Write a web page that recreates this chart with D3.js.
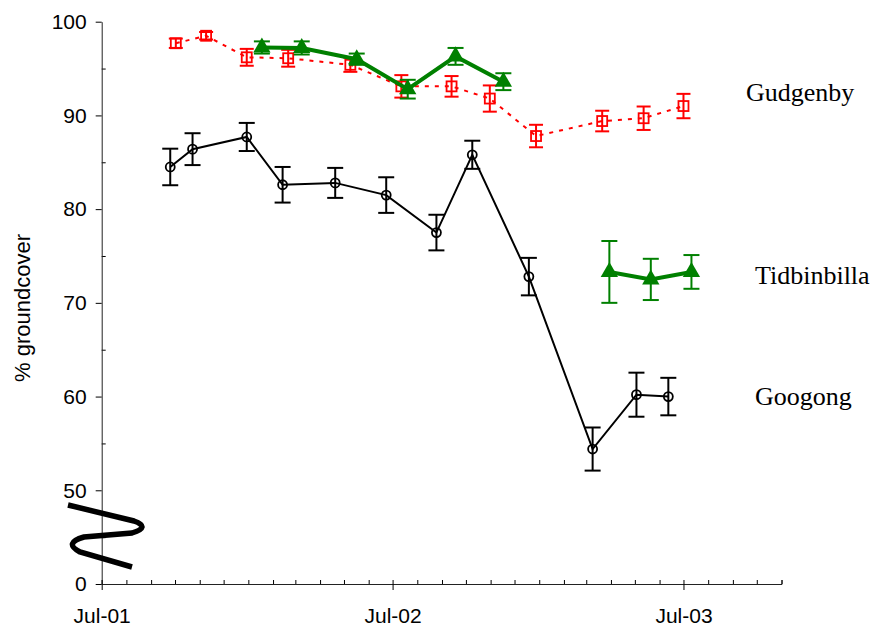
<!DOCTYPE html>
<html>
<head>
<meta charset="utf-8">
<script src="https://cdn.jsdelivr.net/npm/d3@7"></script>
<style>
  body { margin: 0; background: #fff; }
  svg { display: block; }
</style>
</head>
<body>
<div id="chart"></div>
<script>
// Googong (black, open circles)
const googongDates = ["2001-09-25","2001-10-23","2001-12-30","2002-02-13","2002-04-20","2002-06-23",
                      "2002-08-25","2002-10-09","2002-12-19","2003-03-09","2003-05-03","2003-06-12"];
const googongValues = [84.5, 86.4, 87.7, 82.6, 82.8, 81.5, 77.5, 85.8, 72.8, 54.4, 60.2, 60.0];
const googongErr = [1.95, 1.7, 1.5, 1.9, 1.6, 1.9, 1.9, 1.5, 2.0, 2.3, 2.35, 2.0];

// Gudgenby (red, open squares, dashed)
const gudgenbyDates = ["2001-10-02","2001-11-09","2001-12-30","2002-02-20","2002-05-09","2002-07-12",
                       "2002-09-13","2002-10-31","2002-12-28","2003-03-21","2003-05-12","2003-07-01"];
const gudgenbyValues = [97.7, 98.5, 96.2, 96.1, 95.4, 93.1, 93.1, 91.8, 87.8, 89.4, 89.7, 91.0];
const gudgenbyErr = [0.5, 0.4, 0.9, 0.9, 0.75, 1.2, 1.1, 1.4, 1.2, 1.1, 1.25, 1.3];

// Tidbinbilla (green, filled triangles) - null marks the gap
const tidDates = ["2002-01-18","2002-03-09","2002-05-17","2002-07-20","2002-09-18","2002-11-17",
                  null, "2003-03-30","2003-05-21","2003-07-11"];
const tidValues = [97.25, 97.2, 96.0, 92.8, 96.3, 93.6, null, 73.3, 72.5, 73.3];
const tidErr = [0.65, 0.7, 0.6, 1.0, 0.9, 0.9, null, 3.3, 2.2, 1.8];

// axis ticks
const yMajor = [40, 50, 60, 70, 80, 90, 100];   // 40 is shown as 0 (broken axis)
const yMinor = [45, 55, 65, 75, 85, 95];
const xMajorLabels = ["Jul-01", "Jul-02", "Jul-03"];

const parse = d3.timeParse("%Y-%m-%d");
const build = (dates, values, errs) => dates.map((d, i) => ({
    date: d ? parse(d) : null, value: values[i], err: errs[i]
}));
const googong = build(googongDates, googongValues, googongErr);
const gudgenby = build(gudgenbyDates, gudgenbyValues, gudgenbyErr);
const tidbinbilla = build(tidDates, tidValues, tidErr);

const width = 877, height = 628;
const svg = d3.select("#chart").append("svg")
    .attr("width", width)
    .attr("height", height);

const x = d3.scaleTime()
    .domain([parse("2001-07-01"), parse("2003-11-01")])
    .range([101.7, 781.5]);
const y = d3.scaleLinear()
    .domain([40, 100])
    .range([584, 21.7]);

// x axis: minor monthly ticks pointing up, major July ticks pointing down
const xMinorAxis = d3.axisBottom(x)
    .ticks(d3.timeMonth.every(1))
    .tickSize(-4)
    .tickFormat("");
svg.append("g")
    .attr("transform", `translate(0,${y(40)})`)
    .call(xMinorAxis)
    .call(g => g.select(".domain").attr("stroke", "#222"));

const julys = xMajorLabels.map((d, i) => new Date(2001 + i, 6, 1));
const xAxis = d3.axisBottom(x)
    .tickValues(julys)
    .tickSize(6)
    .tickFormat((d, i) => xMajorLabels[i]);
svg.append("g")
    .attr("transform", `translate(0,${y(40)})`)
    .call(xAxis)
    .call(g => g.select(".domain").remove())
    .call(g => g.selectAll("text")
        .attr("y", 24)
        .style("font-family", "'Liberation Sans', Arial, sans-serif")
        .style("font-size", "21px")
        .attr("fill", "#000"));

// y axis
const yMinorAxis = d3.axisLeft(y)
    .tickValues(yMinor)
    .tickSize(-4)
    .tickFormat("");
svg.append("g")
    .attr("transform", `translate(${x.range()[0]},0)`)
    .call(yMinorAxis)
    .call(g => g.select(".domain").remove());

const yAxis = d3.axisLeft(y)
    .tickValues(yMajor)
    .tickSize(6)
    .tickSizeOuter(0)
    .tickFormat(d => d === 40 ? "0" : d);
svg.append("g")
    .attr("transform", `translate(${x.range()[0]},0)`)
    .call(yAxis)
    .call(g => g.select(".domain").attr("stroke", "#222"))
    .call(g => g.selectAll("text")
        .attr("x", -15)
        .style("font-family", "'Liberation Sans', Arial, sans-serif")
        .style("font-size", "21px")
        .attr("fill", "#000"));

// axis break squiggle
svg.append("path")
    .attr("d", "M68,505 L134,521 Q151,527 132,533 L84,537 Q63,543 80,552 L132,567")
    .attr("fill", "none")
    .attr("stroke", "#000")
    .attr("stroke-width", 5.5);

// y axis title
svg.append("text")
    .attr("transform", "translate(30,308) rotate(-90)")
    .attr("text-anchor", "middle")
    .style("font-family", "'Liberation Sans', Arial, sans-serif")
    .style("font-size", "22px")
    .text("% groundcover");

const line = d3.line()
    .defined(d => d.value !== null)
    .x(d => x(d.date))
    .y(d => y(d.value));

function errorBars(data, color, capHalf, sw) {
    const g = svg.append("g");
    const pts = data.filter(d => d.value !== null);
    g.selectAll("line.v").data(pts).enter().append("line")
        .attr("x1", d => x(d.date)).attr("x2", d => x(d.date))
        .attr("y1", d => y(d.value + d.err)).attr("y2", d => y(d.value - d.err))
        .attr("stroke", color).attr("stroke-width", sw);
    g.selectAll("line.top").data(pts).enter().append("line")
        .attr("x1", d => x(d.date) - capHalf).attr("x2", d => x(d.date) + capHalf)
        .attr("y1", d => y(d.value + d.err)).attr("y2", d => y(d.value + d.err))
        .attr("stroke", color).attr("stroke-width", sw);
    g.selectAll("line.bot").data(pts).enter().append("line")
        .attr("x1", d => x(d.date) - capHalf).attr("x2", d => x(d.date) + capHalf)
        .attr("y1", d => y(d.value - d.err)).attr("y2", d => y(d.value - d.err))
        .attr("stroke", color).attr("stroke-width", sw);
}

// Googong
svg.append("path").datum(googong)
    .attr("d", line)
    .attr("fill", "none")
    .attr("stroke", "#000")
    .attr("stroke-width", 2);
errorBars(googong, "#000", 8, 2);
svg.append("g").selectAll("circle").data(googong).enter().append("circle")
    .attr("cx", d => x(d.date))
    .attr("cy", d => y(d.value))
    .attr("r", 4.5)
    .attr("fill", "none")
    .attr("stroke", "#000")
    .attr("stroke-width", 1.8);

// Gudgenby
svg.append("path").datum(gudgenby)
    .attr("d", line)
    .attr("fill", "none")
    .attr("stroke", "#ff0000")
    .attr("stroke-width", 2)
    .attr("stroke-dasharray", "4,6");
errorBars(gudgenby, "#ff0000", 7, 2);
svg.append("g").selectAll("rect").data(gudgenby).enter().append("rect")
    .attr("x", d => x(d.date) - 5)
    .attr("y", d => y(d.value) - 5)
    .attr("width", 10)
    .attr("height", 10)
    .attr("fill", "none")
    .attr("stroke", "#ff0000")
    .attr("stroke-width", 1.8);

// Tidbinbilla
svg.append("path").datum(tidbinbilla)
    .attr("d", line)
    .attr("fill", "none")
    .attr("stroke", "#008000")
    .attr("stroke-width", 4);
errorBars(tidbinbilla, "#008000", 8, 2);
const tri = d3.symbol().type(d3.symbolTriangle).size(130);
svg.append("g").selectAll("path").data(tidbinbilla.filter(d => d.value !== null)).enter().append("path")
    .attr("d", tri)
    .attr("transform", d => `translate(${x(d.date)},${y(d.value)})`)
    .attr("fill", "#008000");

// series labels
const labels = [
    { text: "Gudgenby", x: 746, y: 101 },
    { text: "Tidbinbilla", x: 755, y: 284 },
    { text: "Googong", x: 755, y: 405 }
];
svg.selectAll(".series-label").data(labels).enter().append("text")
    .attr("class", "series-label")
    .attr("x", d => d.x)
    .attr("y", d => d.y)
    .style("font-family", "'Liberation Serif', 'Times New Roman', serif")
    .style("font-size", "26px")
    .text(d => d.text);
</script>
</body>
</html>
